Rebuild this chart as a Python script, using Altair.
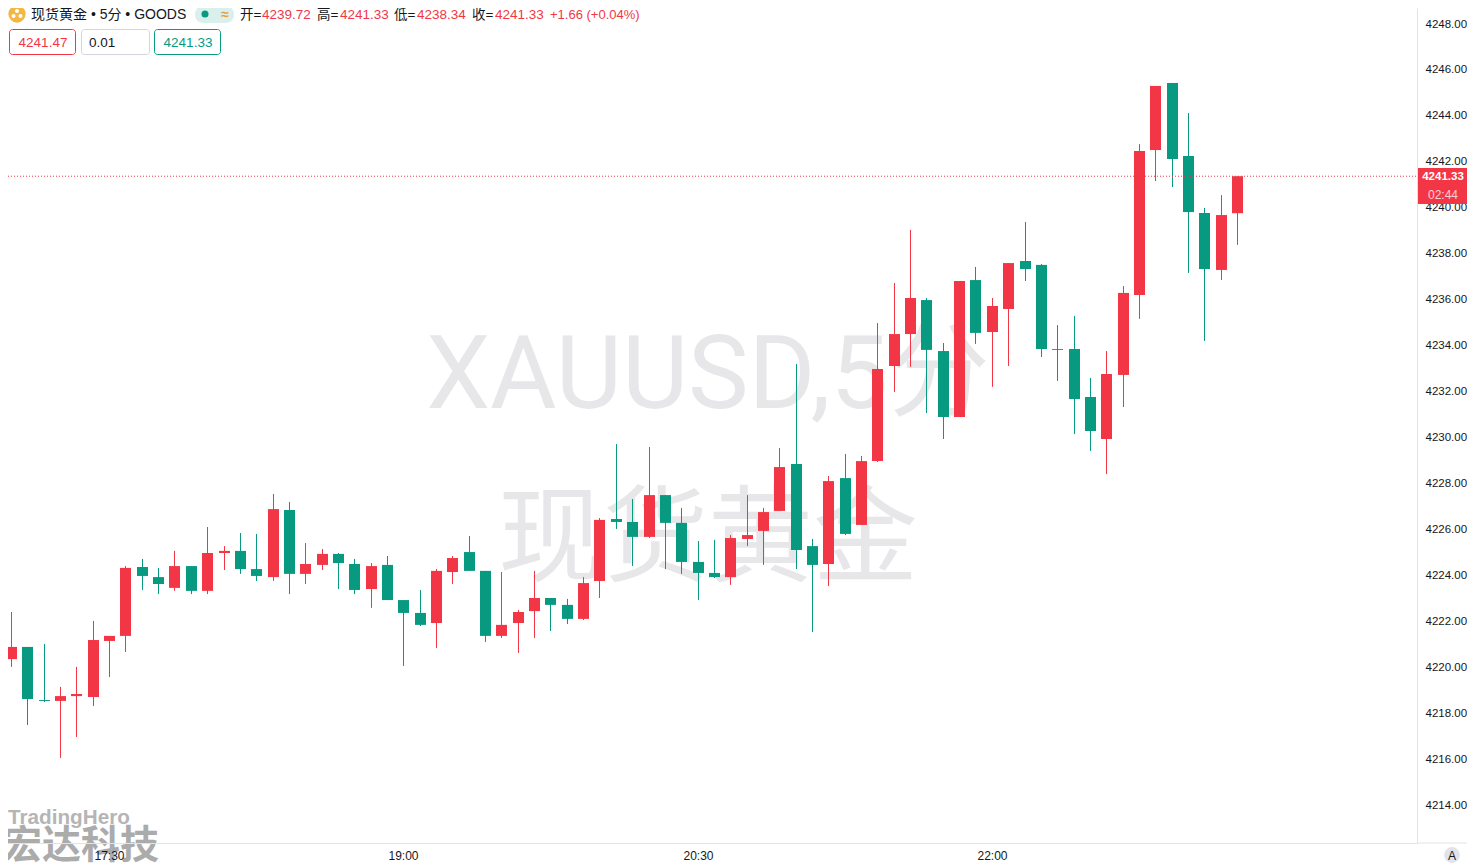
import altair as alt
import pandas as pd

open_ = [4220.31,4220.84,4218.53,4218.49,4218.70,4218.66,4221.10,4221.32,4224.32,4223.88,
         4223.41,4224.36,4223.28,4224.93,4225.02,4224.23,4223.88,4226.80,4224.02,4224.41,
         4224.89,4224.45,4223.36,4224.41,4222.88,4222.32,4221.88,4224.10,4224.97,4224.15,
         4221.32,4221.88,4222.40,4222.97,4222.67,4222.06,4223.71,4226.41,4226.28,4225.63,
         4227.45,4226.24,4224.54,4224.06,4223.88,4225.54,4225.89,4226.76,4228.80,4225.23,
         4224.45,4228.19,4226.15,4228.93,4233.07,4234.46,4235.94,4233.72,4230.85,4236.81,
         4234.55,4235.55,4237.64,4237.47,4233.81,4233.81,4231.72,4229.89,4232.68,4236.16,
         4242.47,4245.39,4242.21,4239.73,4237.25,4239.72]
high = [4222.36,4220.84,4220.97,4219.10,4219.97,4221.97,4221.32,4224.36,4224.67,4224.28,
        4225.02,4224.36,4226.06,4225.23,4225.80,4225.76,4227.50,4227.15,4225.36,4225.10,
        4224.93,4224.67,4224.49,4224.80,4222.88,4223.32,4224.23,4224.80,4225.67,4224.15,
        4224.10,4222.45,4224.15,4222.97,4222.93,4223.88,4226.45,4229.67,4227.28,4229.54,
        4227.45,4226.89,4225.45,4225.50,4225.71,4227.45,4226.89,4229.50,4233.16,4225.54,
        4228.28,4229.24,4229.15,4234.94,4236.68,4238.99,4236.03,4234.07,4236.77,4237.38,
        4236.03,4237.55,4239.34,4237.51,4234.85,4235.25,4232.55,4233.72,4236.55,4242.73,
        4245.26,4245.39,4244.08,4239.95,4240.51,4241.33]
low = [4219.97,4217.44,4218.44,4216.01,4216.92,4218.27,4219.53,4220.62,4223.32,4223.14,
       4223.28,4223.14,4223.14,4224.19,4224.02,4223.71,4223.71,4223.14,4223.58,4224.19,
       4223.36,4223.14,4222.54,4222.88,4220.01,4221.75,4220.79,4223.58,4224.15,4221.06,
       4221.23,4220.58,4221.23,4221.53,4221.84,4222.01,4222.97,4225.97,4224.36,4225.58,
       4224.23,4224.02,4222.88,4223.84,4223.54,4225.23,4224.41,4226.76,4224.23,4221.49,
       4223.49,4225.71,4226.15,4228.89,4231.94,4233.03,4231.02,4229.89,4230.85,4234.03,
       4232.16,4233.07,4236.77,4233.46,4232.42,4230.11,4229.37,4228.37,4231.28,4235.12,
       4241.12,4240.86,4237.12,4234.16,4236.81,4238.34]
close = [4220.84,4218.57,4218.49,4218.70,4218.79,4221.14,4221.32,4224.28,4223.93,4223.58,
         4224.36,4223.28,4224.93,4225.02,4224.23,4223.93,4226.84,4224.02,4224.45,4224.89,
         4224.49,4223.32,4224.36,4222.88,4222.32,4221.80,4224.15,4224.71,4224.15,4221.32,
         4221.80,4222.36,4222.97,4222.67,4222.06,4223.62,4226.37,4226.28,4225.63,4227.45,
         4226.24,4224.54,4224.06,4223.88,4225.58,4225.71,4226.71,4228.67,4225.06,4224.41,
         4228.06,4225.76,4228.93,4232.94,4234.46,4236.03,4233.77,4230.85,4236.77,4234.51,
         4235.68,4237.55,4237.29,4233.81,4233.77,4231.63,4230.24,4232.72,4236.25,4242.43,
         4245.26,4242.08,4239.77,4237.29,4239.64,4241.33]
direction = ["up" if c >= o else "down" for o, c in zip(open_, close)]

price_ticks = [4214 + 2 * k for k in range(18)]
time_positions = [6, 24, 42, 60]
time_labels = ["17:30", "19:00", "20:30", "22:00"]
last_price = [4241.33]

RED, GREEN = "#F23645", "#089981"
INK = "#131722"
LINE = "#E0E3EB"
LATIN = "Liberation Sans, Noto Sans CJK SC"
CJK = "Noto Sans CJK SC"

candles = pd.DataFrame({
    "i": list(range(len(open_))), "open": open_, "high": high, "low": low,
    "close": close, "dir": direction,
})

x_scale = alt.Scale(domain=[-0.1835, 86.01], nice=False, zero=False, padding=0, round=True)
y_scale = alt.Scale(domain=[4212.305, 4248.653], nice=False, zero=False)
color_scale = alt.Scale(domain=["up", "down"], range=[RED, GREEN])
label_expr = "{" + ",".join(f"'{p}':'{t}'" for p, t in zip(time_positions, time_labels)) + "}[datum.value]"

one = pd.DataFrame({"k": [0]})


def text(s, x, y, size=13, color=INK, font=LATIN, align="left", weight="normal", opacity=1.0):
    return alt.Chart(one).mark_text(
        text=s, align=align, baseline="middle", fontSize=size, color=color,
        font=font, fontWeight=weight, opacity=opacity,
    ).encode(x=alt.value(x - 8), y=alt.value(y - 8))


def box(x0, x1, y0, y1, fill, stroke=None, radius=0):
    kw = {"stroke": stroke, "strokeWidth": 1} if stroke else {}
    return alt.Chart(one).mark_rect(fill=fill, cornerRadius=radius, **kw).encode(
        x=alt.value(x0 - 8), x2=alt.value(x1 - 8), y=alt.value(y0 - 8), y2=alt.value(y1 - 8))


def dot(x, y, size, color):
    return alt.Chart(one).mark_circle(size=size, color=color, opacity=1).encode(
        x=alt.value(x - 8), y=alt.value(y - 8))


base = alt.Chart(candles)

wm = [
    text("XAUUSD,5分", 708, 377, size=102, color="#E7E7E9", font="Roboto, Noto Sans CJK SC", align="center"),
    text("现货黄金", 708, 541, size=105, color="#E7E7E9", font=CJK, align="center"),
]

wicks = base.mark_rule(strokeWidth=1, xOffset=0.5).encode(
    x=alt.X("i:Q", scale=x_scale, axis=alt.Axis(
        values=time_positions, labelExpr=label_expr, title=None, grid=False, ticks=False,
        domainColor=LINE, labelColor=INK, labelFont="Liberation Sans", labelFontSize=12,
        labelPadding=7, labelFlush=False, zindex=1)),
    y=alt.Y("low:Q", scale=y_scale, axis=alt.Axis(
        orient="right", values=price_ticks, format=".2f", title=None, grid=False, ticks=False,
        domainColor=LINE, labelColor=INK, labelFont="Liberation Sans", labelFontSize=11.5,
        labelPadding=8, labelOffset=1, zindex=0)),
    y2="high:Q",
    color=alt.Color("dir:N", scale=color_scale, legend=None),
)
bodies = base.mark_bar(size=11, xOffset=0.5).encode(
    x=alt.X("i:Q", scale=x_scale),
    y=alt.Y("open:Q", scale=y_scale),
    y2="close:Q",
    color=alt.Color("dir:N", scale=color_scale, legend=None),
)

price_line = alt.Chart(pd.DataFrame({"p": last_price})).mark_rule(
    color=RED, strokeWidth=1, strokeDash=[1, 2]
).encode(y=alt.Y("p:Q", scale=y_scale), x=alt.value(0), x2=alt.value(1409))

bottom_ext = alt.Chart(one).mark_rule(color=LINE, strokeWidth=1).encode(
    x=alt.value(1409), x2=alt.value(1459), y=alt.value(835))

tag = [
    box(1418, 1467, 168, 204, RED),
    text("4241.33", 1443, 177, size=11.5, color="#FFFFFF", align="center", weight="bold"),
    text("02:44", 1443, 195, size=12, color="#FFFFFF", align="center", opacity=0.75),
]

header = [
    dot(17, 14, 300, "#F2B843"),
    dot(17, 11, 16, "#FFFFFF"), dot(13.5, 16, 16, "#FFFFFF"), dot(20.5, 16, 16, "#FFFFFF"),
    text("现货黄金 • 5分 • GOODS", 31, 15, size=14),
    box(195, 234, 6, 23, "#D9F0EC", radius=8),
    dot(205, 14, 50, GREEN),
    text("≈", 225, 14.5, size=14, color="#F09A37", align="center", weight="bold"),
    text("开=", 240, 14.5, size=13.5), text("4239.72", 262, 14.5, size=13.5, color=RED),
    text("高=", 317, 14.5, size=13.5), text("4241.33", 340, 14.5, size=13.5, color=RED),
    text("低=", 394, 14.5, size=13.5), text("4238.34", 417, 14.5, size=13.5, color=RED),
    text("收=", 472, 14.5, size=13.5), text("4241.33", 495, 14.5, size=13.5, color=RED),
    text("+1.66 (+0.04%)", 550, 14.5, size=13, color=RED),
    box(9.5, 75.5, 29.5, 54.5, "#FFFFFF", RED, 3),
    box(81.5, 149.5, 29.5, 54.5, "#FFFFFF", "#D1D4DC", 3),
    box(154.5, 220.5, 29.5, 54.5, "#FFFFFF", GREEN, 3),
    text("4241.47", 43, 42.5, size=13.5, color=RED, align="center"),
    text("0.01", 89, 43, size=13.5),
    text("4241.33", 188, 42.5, size=13.5, color=GREEN, align="center"),
]

logo = [
    text("TradingHero", 8, 818, size=20.7, color="#B5B5B5", weight="bold", font="Liberation Sans"),
    text("宏达科技", 3, 846, size=39, color="#ABABAB", weight="bold", font=CJK),
]

auto = [
    dot(1452, 855, 250, LINE),
    text("A", 1452, 855.5, size=12, color=INK, align="center"),
]

chart = alt.layer(*logo, *wm, wicks, bodies, price_line, bottom_ext, *tag, *header, *auto).properties(
    width=1409, height=835,
    autosize=alt.AutoSizeParams(type="none"),
    padding={"left": 0, "top": 0, "right": 50, "bottom": 20},
).configure_view(stroke=None)

chart.save("out.html", embed_options={"renderer": "svg", "actions": False})
